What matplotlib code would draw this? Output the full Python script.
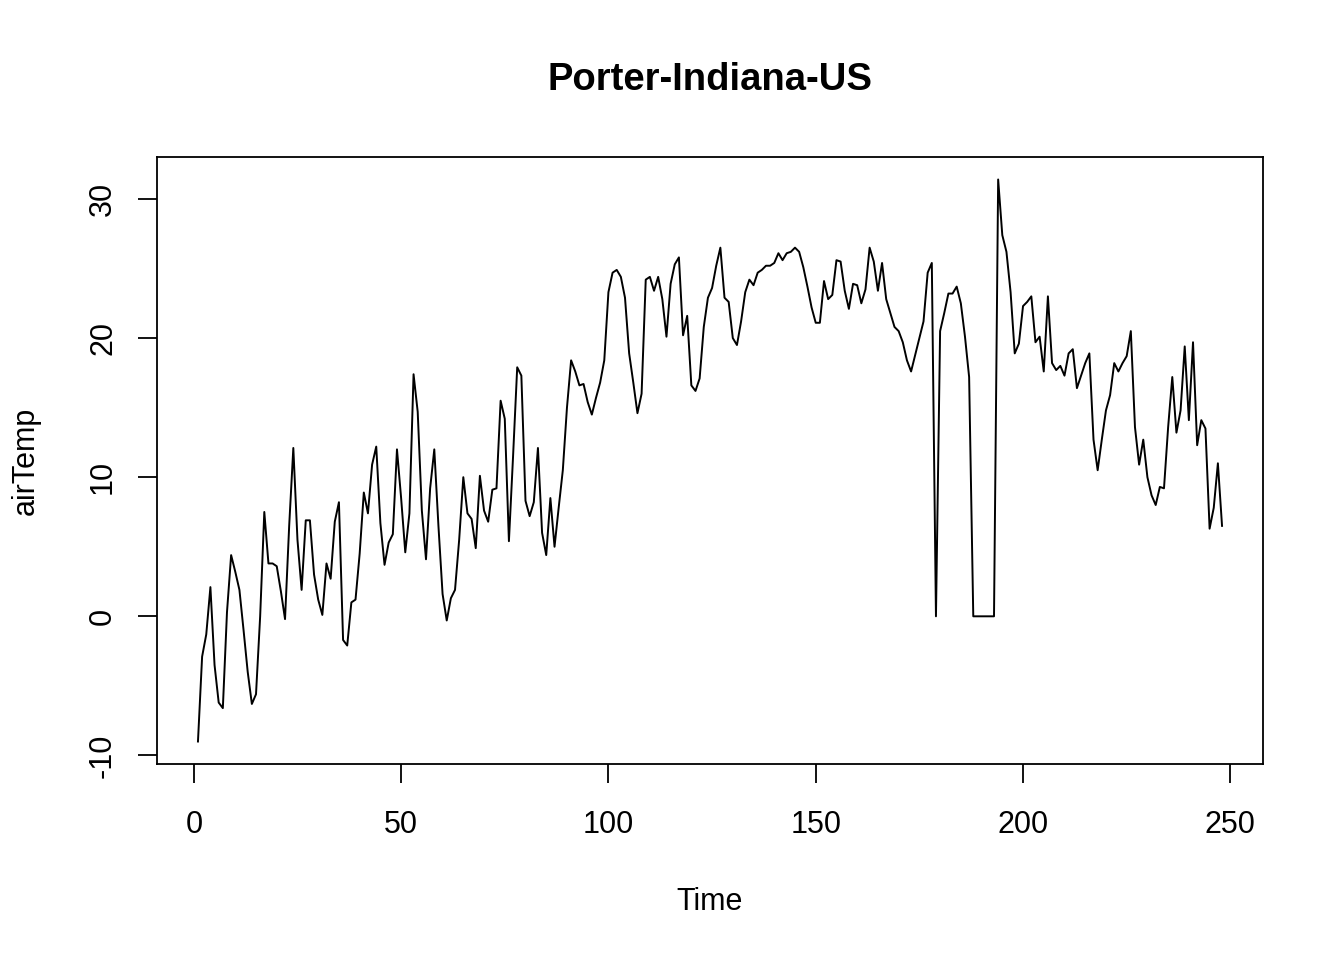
import numpy as np
import matplotlib
matplotlib.use("Agg")
import matplotlib.pyplot as plt

plt.rcParams['font.family'] = ['Liberation Sans', 'DejaVu Sans']

# airTemp series, one value per time step
air_temp = [
    -9.0, -2.9, -1.3, 2.1, -3.5, -6.2, -6.6, 0.3, 4.4, 3.2,
    1.9, -1.0, -4.0, -6.3, -5.6, 0.0, 7.5, 3.8, 3.8, 3.6,
    1.8, -0.2, 6.5, 12.1, 5.5, 1.9, 6.9, 6.9, 3.0, 1.2,
    0.1, 3.8, 2.7, 6.8, 8.2, -1.7, -2.1, 1.0, 1.2, 4.5,
    8.9, 7.4, 10.9, 12.2, 6.7, 3.7, 5.3, 5.9, 12.0, 8.5,
    4.6, 7.4, 17.4, 14.7, 7.6, 4.1, 9.2, 12.0, 6.5, 1.6,
    -0.3, 1.3, 1.9, 5.5, 10.0, 7.4, 7.0, 4.9, 10.1, 7.6,
    6.8, 9.1, 9.2, 15.5, 14.2, 5.4, 11.5, 17.9, 17.3, 8.3,
    7.2, 8.2, 12.1, 6.0, 4.4, 8.5, 5.0, 7.8, 10.5, 15.0,
    18.4, 17.6, 16.6, 16.7, 15.4, 14.5, 15.7, 16.8, 18.4, 23.3,
    24.7, 24.9, 24.4, 22.9, 18.9, 16.8, 14.6, 16.0, 24.2, 24.4,
    23.4, 24.4, 22.8, 20.1, 23.9, 25.3, 25.8, 20.2, 21.6, 16.6,
    16.2, 17.1, 20.8, 22.9, 23.6, 25.2, 26.5, 22.9, 22.6, 20.0,
    19.5, 21.2, 23.3, 24.2, 23.8, 24.7, 24.9, 25.2, 25.2, 25.4,
    26.1, 25.6, 26.1, 26.2, 26.5, 26.2, 25.1, 23.7, 22.2, 21.1,
    21.1, 24.1, 22.8, 23.1, 25.6, 25.5, 23.4, 22.1, 23.9, 23.8,
    22.5, 23.5, 26.5, 25.5, 23.4, 25.4, 22.8, 21.8, 20.8, 20.5,
    19.7, 18.4, 17.6, 18.8, 20.0, 21.2, 24.7, 25.4, 0.0, 20.5,
    21.8, 23.2, 23.2, 23.7, 22.5, 20.1, 17.2, 0.0, 0.0, 0.0,
    0.0, 0.0, 0.0, 31.4, 27.4, 26.2, 23.3, 18.9, 19.6, 22.3,
    22.6, 23.0, 19.7, 20.1, 17.6, 23.0, 18.2, 17.7, 18.0, 17.3,
    18.9, 19.2, 16.4, 17.3, 18.2, 18.9, 12.7, 10.5, 12.7, 14.8,
    15.9, 18.2, 17.6, 18.2, 18.7, 20.5, 13.6, 10.9, 12.7, 10.0,
    8.7, 8.0, 9.3, 9.2, 13.6, 17.2, 13.2, 14.8, 19.4, 14.1,
    19.7, 12.3, 14.1, 13.5, 6.3, 7.8, 11.0, 6.5,
]
time = np.arange(1, len(air_temp) + 1)

x_ticks = [0, 50, 100, 150, 200, 250]
y_ticks = [-10, 0, 10, 20, 30]

fig = plt.figure(figsize=(13.44, 9.6), dpi=100)
ax = fig.add_axes([157 / 1344, 1 - 764 / 960, 1106 / 1344, 607 / 960])

ax.plot(time, air_temp, color="black", linewidth=1.4)

# R-style 4% padding on both axes
xr = time.max() - time.min()
yr = max(air_temp) - min(air_temp)
ax.set_xlim(time.min() - 0.04 * xr, time.max() + 0.04 * xr)
ax.set_ylim(min(air_temp) - 0.04 * yr, max(air_temp) + 0.04 * yr)

ax.set_xticks(x_ticks)
ax.set_yticks(y_ticks)
ax.set_yticklabels([str(v) for v in y_ticks], rotation=90, va="center")
ax.tick_params(axis="both", direction="out", length=14, width=1.3,
               labelsize=22, color="black")
ax.tick_params(axis="x", pad=19)
ax.tick_params(axis="y", pad=14)
for s in ax.spines.values():
    s.set_linewidth(1.3)

ax.set_xlabel("Time", fontsize=22, labelpad=34)
ax.set_ylabel("airTemp", fontsize=22, labelpad=34)
fig.text(710 / 1344, 1 - 80 / 960, "Porter-Indiana-US", fontsize=27.5,
         fontweight="bold", ha="center", va="center")

fig.savefig("out.png", dpi=100)
